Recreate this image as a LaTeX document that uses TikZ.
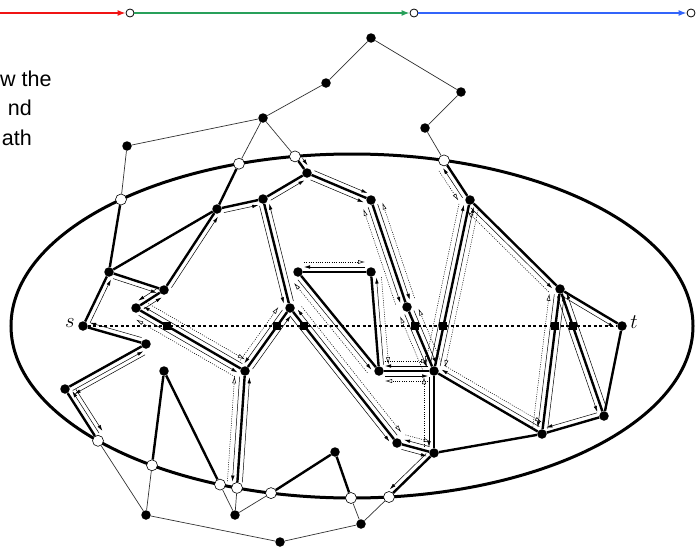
\documentclass[tikz,border=0pt]{standalone}
\usepackage{fontspec}
\setmainfont{Liberation Sans}
\usetikzlibrary{arrows.meta, calc}

\definecolor{segred}{RGB}{240,20,20}
\definecolor{seggreen}{RGB}{40,160,90}
\definecolor{segblue}{RGB}{50,100,250}

% one side of a face walk: from #2 to #3, shifted by #4 (positive = left of travel)
\newcommand\walk[4][fw]{\draw[#1] ($(#2.center)!#4!90:(#3.center)$) -- ($(#3.center)!#4!-90:(#2.center)$);}

\begin{document}
\begin{tikzpicture}[x=1pt,y=-1pt,
  dot/.style={circle, fill=black, inner sep=0pt, minimum size=9.5pt},
  hole/.style={circle, draw=black, fill=white, line width=0.6pt, inner sep=0pt, minimum size=11pt},
  tick/.style={circle, draw=black, fill=white, line width=0.8pt, inner sep=0pt, minimum size=8pt},
  cross/.style={rectangle, fill=black, inner sep=0pt, minimum size=8pt},
  edge/.style={line width=2.4pt},
  twig/.style={line width=0.7pt, black!80},
  fw/.style={line width=0.5pt, shorten <=6pt, shorten >=6pt, -{Latex[length=6pt,width=3.5pt]}},
  bw/.style={line width=0.5pt, dash pattern=on 1pt off 1.3pt, shorten <=6pt, shorten >=6pt, -{Latex[open,length=7pt,width=4pt]}}
]
\useasboundingbox (0,0) rectangle (696,549);
\clip (0,0) rectangle (696,549);

% segments at the top
\node[tick] (p1) at (130,13) {};
\node[tick] (p2) at (414,13) {};
\node[tick] (p3) at (691,13) {};
\coordinate (p0) at (0,13);
\draw[segred, line width=1.3pt, -{Latex[length=8pt,width=6pt]}] (p0) -- (p1);
\draw[seggreen, line width=1.3pt, -{Latex[length=8pt,width=6pt]}] (p1) -- (p2);
\draw[segblue, line width=1.3pt, -{Latex[length=8pt,width=6pt]}] (p2) -- (p3);

% text at the left border
\node[anchor=base west, inner sep=0pt, font=\fontsize{21.5}{26}\selectfont] (txt1) at (0,86) {w the};
\node[anchor=base east, inner sep=0pt, font=\fontsize{21.5}{26}\selectfont] (txt2) at (32,115) {nd};
\node[anchor=base east, inner sep=0pt, font=\fontsize{21.5}{26}\selectfont] (txt3) at (32,145) {ath};

% outer ellipse
\draw[line width=3pt] (352,326) ellipse [x radius=341pt, y radius=172pt];

% nodes outside
\node[dot] (o1) at (127,146) {};
\node[dot] (o2) at (263,118) {};
\node[dot] (o3) at (326,83) {};
\node[dot] (o4) at (371,38) {};
\node[dot] (o5) at (461,92) {};
\node[dot] (o6) at (425,128) {};
\node[dot] (b1) at (146,515) {};
\node[dot] (b2) at (235,515) {};
\node[dot] (b3) at (280,542) {};
\node[dot] (b4) at (361,524) {};

% nodes on the ellipse
\node[hole] (e1) at (121,199.5) {};
\node[hole] (e2) at (239,163.7) {};
\node[hole] (e3) at (295,156.4) {};
\node[hole] (e4) at (444,160.4) {};
\node[hole] (e5) at (98,440.8) {};
\node[hole] (e6) at (152,465.3) {};
\node[hole] (e7) at (220,484.6) {};
\node[hole] (e8) at (237,487.9) {};
\node[hole] (e9) at (271,493.1) {};
\node[hole] (e10) at (351,498) {};
\node[hole] (e11) at (389,497) {};

% nodes inside
\node[dot] (s) at (83,326) {};
\node[dot] (t) at (622,326) {};
\node[dot] (a) at (109,272) {};
\node[dot] (b) at (217,209) {};
\node[dot] (c) at (164,290) {};
\node[dot] (d) at (136,308) {};
\node[dot] (f) at (146,344) {};
\node[dot] (g) at (65,389) {};
\node[dot] (h) at (164,371) {};
\node[dot] (i) at (245,371) {};
\node[dot] (j) at (290,308) {};
\node[dot] (k) at (263,199) {};
\node[dot] (l) at (307,173) {};
\node[dot] (m) at (371,200) {};
\node[dot] (n) at (298,272) {};
\node[dot] (p) at (371,272) {};
\node[dot] (q) at (407,307) {};
\node[dot] (r) at (379,371) {};
\node[dot] (u) at (434,371) {};
\node[dot] (v) at (397,443) {};
\node[dot] (w) at (434,453) {};
\node[dot] (x) at (470,200) {};
\node[dot] (y) at (560,289) {};
\node[dot] (z) at (542,434) {};
\node[dot] (zz) at (604,416) {};
\node[dot] (mm) at (335,452) {};

\node[font=\fontsize{20}{24}\selectfont] (slab) at (70,323) {$s$};
\node[font=\fontsize{20}{24}\selectfont] (tlab) at (634,322) {$t$};

% thin edges
\foreach \a/\b in {o1/e1,o1/o2,o2/e2,o2/e3,o2/o3,o3/o4,o4/o5,o5/o6,o6/e4,
  e5/b1,e6/b1,b1/b3,e7/b2,e8/b2,b2/e9,b3/b4,b4/e10,b4/e11}
  \draw[twig] (\a) -- (\b);

% thick edges
\foreach \a/\b in {e1/a,a/b,a/c,a/s,e2/b,b/c,b/k,c/d,d/i,s/f,f/g,g/e5,h/e6,h/e7,
  i/e8,i/j,k/j,k/l,l/e3,l/m,m/q,n/p,p/r,n/r,j/v,r/u,q/u,v/w,u/w,w/e11,w/z,u/z,
  u/x,x/e4,x/y,y/t,y/z,y/zz,z/zz,t/zz,mm/e9,mm/e10}
  \draw[edge] (\a) -- (\b);

% the line from s to t
\draw[line width=2.6pt, dash pattern=on 3pt off 2.5pt] (s) -- (t);
\foreach \a/\b [count=\nn] in {d/i,i/j,j/v,q/u,u/x,y/z,y/zz}
  \node[cross] (x\nn) at (intersection of s--t and \a--\b) {};

% walks, solid, face on the right
\foreach \a/\b in {c/b,b/k,k/j,j/i,i/d,d/c,
  u/r,r/p,p/n,n/r,r/u,u/w,w/v,v/j,j/k,k/l,l/m,m/q,q/u,
  u/x,x/y,y/z,z/u, y/zz,zz/z,z/y, y/t,zz/y,
  e5/g,g/f,f/s,s/a,a/c,c/d,d/i,i/e8,e8/i,i/j,j/v,v/w,w/e11}
  {\walk{\a}{\b}{-5pt}}
\foreach \a/\b in {e3/l,l/m,m/q,q/u,u/x,x/e4}
  {\walk{\a}{\b}{5pt}}
\foreach \a/\b in {f/g,g/e5}
  {\walk{\a}{\b}{9pt}}

% walks, dotted
\foreach \a/\b in {d/i,i/j,
  u/q,q/m,j/v,v/w,w/u,u/r,r/n,n/p,p/r,r/u,
  u/z,z/y,y/x,x/u, e8/i,i/d}
  {\walk[bw]{\a}{\b}{10pt}}
\foreach \a/\b in {e4/x,x/u,u/q,q/m}
  {\walk[bw]{\a}{\b}{-10pt}}
\end{tikzpicture}
\end{document}
